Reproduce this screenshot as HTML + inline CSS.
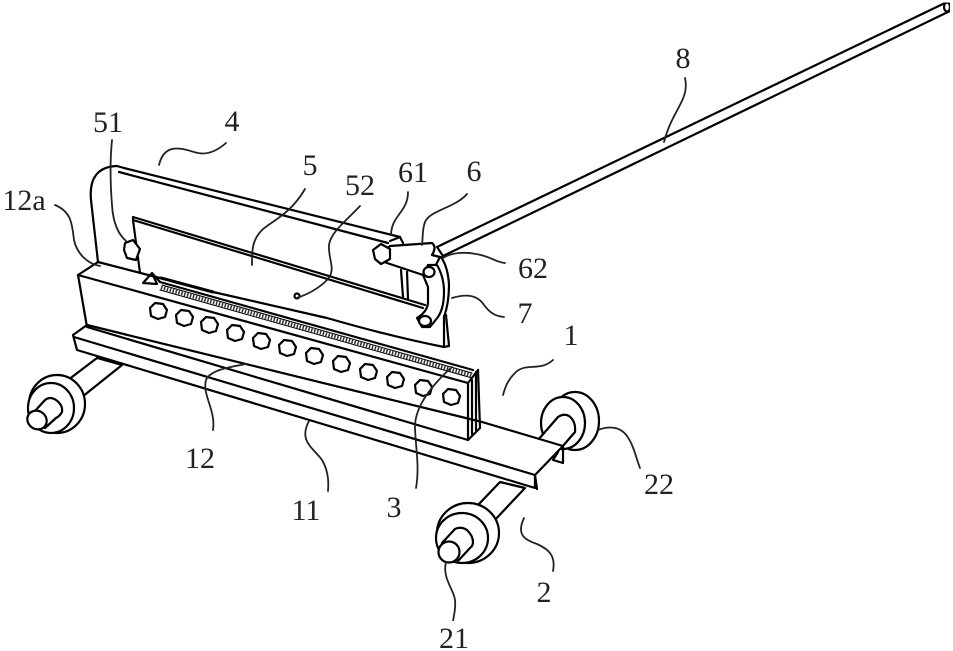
<!DOCTYPE html>
<html><head><meta charset="utf-8"><style>
html,body{margin:0;padding:0;background:#fff;width:953px;height:651px;overflow:hidden}
svg{display:block}
.k{fill:#fff;stroke:#000;stroke-width:2.200;stroke-linejoin:round;stroke-linecap:round}
.n{fill:none;stroke:#000;stroke-width:2.200;stroke-linejoin:round;stroke-linecap:round}
.l{fill:none;stroke:#222;stroke-width:1.800;stroke-linecap:round}
text{font-family:"Liberation Serif","Noto Serif CJK SC",serif;font-size:30px;fill:#222;text-anchor:middle}
</style></head><body>
<svg width="953" height="651" viewBox="0 0 953 651" xmlns="http://www.w3.org/2000/svg">
<defs>
<polygon id="h" points="-8,-3 -3,-8 5,-7 9,-1 7,6 0,8 -7,5" />
<filter id="b" x="0" y="0" width="100%" height="100%"><feGaussianBlur stdDeviation="0.350"/></filter>
</defs>
<g filter="url(#b)">

<!-- left wheel -->
<path class="k" d="M97,358L68,380L82,397L122,365Z"/>
<ellipse class="k" cx="57" cy="404" rx="28" ry="29"/>
<ellipse class="k" cx="51" cy="408" rx="23" ry="25"/>
<path class="k" d="M34,412L45,400Q50,396 56,400Q63,405 62,412Q60,416 56,418L45,428Z"/>
<ellipse class="k" cx="37" cy="420" rx="10" ry="9" transform="rotate(35 37 420)"/>

<!-- right wheel -->
<path class="n" d="M585,396Q594,401 598,415"/>
<ellipse class="k" cx="575" cy="421" rx="24" ry="29"/>
<ellipse class="k" cx="563" cy="423" rx="22" ry="26"/>
<path class="k" d="M538,440L558,417Q564,413 569,416Q576,421 575,432L562,447L550,455Z"/>

<!-- front axle + wheel -->
<path class="k" d="M500,482L478,505L493,522L525,488Z"/>
<ellipse class="k" cx="468" cy="533" rx="31" ry="30"/>
<ellipse class="k" cx="462" cy="538" rx="26" ry="25"/>
<path class="k" d="M442,543L455,529Q461,526 467,530Q473,536 473,542Q473,546 470,548L458,561Z"/>
<ellipse class="k" cx="449" cy="552" rx="10.500" ry="10.500"/>

<!-- rail -->
<path class="k" d="M87,325L73,335L77,350L535,488L535,475L563,446L482,422Z"/>
<path class="n" d="M74,337L535,475"/>
<path class="n" d="M535,475L537,489M563,446L563,463L553,460L558,452"/>

<!-- arm -->
<path class="n" d="M98,262L91,200Q88,167 117,166L124,168L400,237L403,243"/>
<path class="n" d="M119,172L388,243"/>

<!-- blade -->
<path class="n" d="M133,217L425,305M133,220L423,308M133,217L133,220L140,273"/>
<path class="k" d="M125,243L133,240L140,249L136,260L127,258L124,250Z"/>
<path class="n" d="M213,292L327,318Q393,337 444,347L449,346L446,315"/>
<path class="n" d="M444,316L444,345"/>
<path class="n" d="M143,283L152,273L157,284ZM152,273L160,282"/>
<path class="n" style="stroke-width:3" d="M161,278L213,292"/>

<!-- block -->
<path class="n" d="M98,262L78,275L87,327L468,440L480,428L478,370"/>
<path class="n" d="M78,275L468,383L468,440M468,383L478,370"/>
<path class="n" d="M98,262L160,278M472,380L472,434M476,372L476,430"/>
<path class="n" d="M160,282L473,370" />
<path class="n" style="stroke-width:1" d="M162,285L472,373M160,290L472,378"/>
<path d="M161,287.500L472,375.500" fill="none" stroke="#333" stroke-width="4" stroke-dasharray="1.500 1.500"/>
<!-- bolts -->
<g class="k">
<use href="#h" x="158" y="311"/><use href="#h" x="184" y="318"/><use href="#h" x="209" y="325"/>
<use href="#h" x="235" y="333"/><use href="#h" x="261" y="341"/><use href="#h" x="287" y="348"/>
<use href="#h" x="314" y="356"/><use href="#h" x="341" y="364"/><use href="#h" x="368" y="372"/>
<use href="#h" x="395" y="380"/><use href="#h" x="423" y="388"/><use href="#h" x="451" y="397"/>
</g>

<!-- 52 dot -->
<circle cx="297" cy="296" r="2.500" class="k"/>

<!-- handle -->
<path class="k" d="M437,247L945,3L950,11L443,256Z"/>
<ellipse class="k" cx="947" cy="7" rx="3" ry="4.500"/>

<!-- posts and links -->
<path class="n" d="M401,270L403,297M407,272L408,299"/>
<path class="k" d="M390,246L432,243Q437,247 432,255L440,257L430,276L423,275L387,263L375,258Z"/>
<path class="n" d="M390,241L400,237"/>
<path class="k" d="M373,250L381,244L390,249L390,259L381,264L375,259Z"/>
<path class="k" d="M423,275L428,265L437,265Q444,277 444,292Q444,308 438,317L430,327L422,327L417,318Q427,312 428,303L428,287Z"/>
<path class="n" d="M441,257Q448,267 449,285Q449,303 444,317"/>
<ellipse class="k" cx="429" cy="272" rx="5.500" ry="5"/>
<ellipse class="k" cx="425" cy="321" rx="6" ry="5"/>

<!-- leaders -->
<path class="l" d="M685,78C690,100 672,110 664,142"/>
<path class="l" d="M159,165C165,140 185,150 198,153C208,155 218,150 226,143"/>
<path class="l" d="M112,140C110,160 110,180 112,205C113,222 118,234 126,241"/>
<path class="l" d="M55,205C72,212 72,225 74,240C77,254 88,264 100,266"/>
<path class="l" d="M305,189C290,215 270,222 262,230C252,240 252,250 252,265"/>
<path class="l" d="M360,206C345,222 331,232 329,245C328,262 338,270 325,282C315,291 305,295 297,298"/>
<path class="l" d="M408,192C408,212 392,215 391,234"/>
<path class="l" d="M467,194C455,208 430,210 425,222C422,230 423,238 422,245"/>
<path class="l" d="M443,258C452,252 466,252 476,254C490,256 495,262 505,263"/>
<path class="l" d="M452,298C465,294 477,294 484,305C490,313 495,316 504,317"/>
<path class="l" d="M452,367C432,385 416,405 415,425C415,445 420,465 416,488"/>
<path class="l" d="M553,360C540,372 525,362 515,373C507,381 505,388 503,395"/>
<path class="l" d="M598,430C608,426 620,426 627,436C634,446 636,458 640,468"/>
<path class="l" d="M524,518C516,535 525,540 537,544C548,549 556,555 553,571"/>
<path class="l" d="M446,562C442,578 454,590 455,600C456,608 454,615 453,621"/>
<path class="l" d="M309,421C298,442 314,448 322,460C328,470 329,480 328,491"/>
<path class="l" d="M246,364C230,367 210,370 206,380C202,395 216,410 213,430"/>
</g>

<!-- labels -->
<text x="683" y="68">8</text>
<text x="232" y="131">4</text>
<text x="108" y="132">51</text>
<text x="24" y="210">12a</text>
<text x="310" y="175">5</text>
<text x="360" y="195">52</text>
<text x="413" y="182">61</text>
<text x="474" y="181">6</text>
<text x="533" y="278">62</text>
<text x="525" y="323">7</text>
<text x="571" y="345">1</text>
<text x="394" y="517">3</text>
<text x="200" y="468">12</text>
<text x="306" y="520">11</text>
<text x="659" y="494">22</text>
<text x="544" y="602">2</text>
<text x="454" y="648">21</text>
</svg>
</body></html>
